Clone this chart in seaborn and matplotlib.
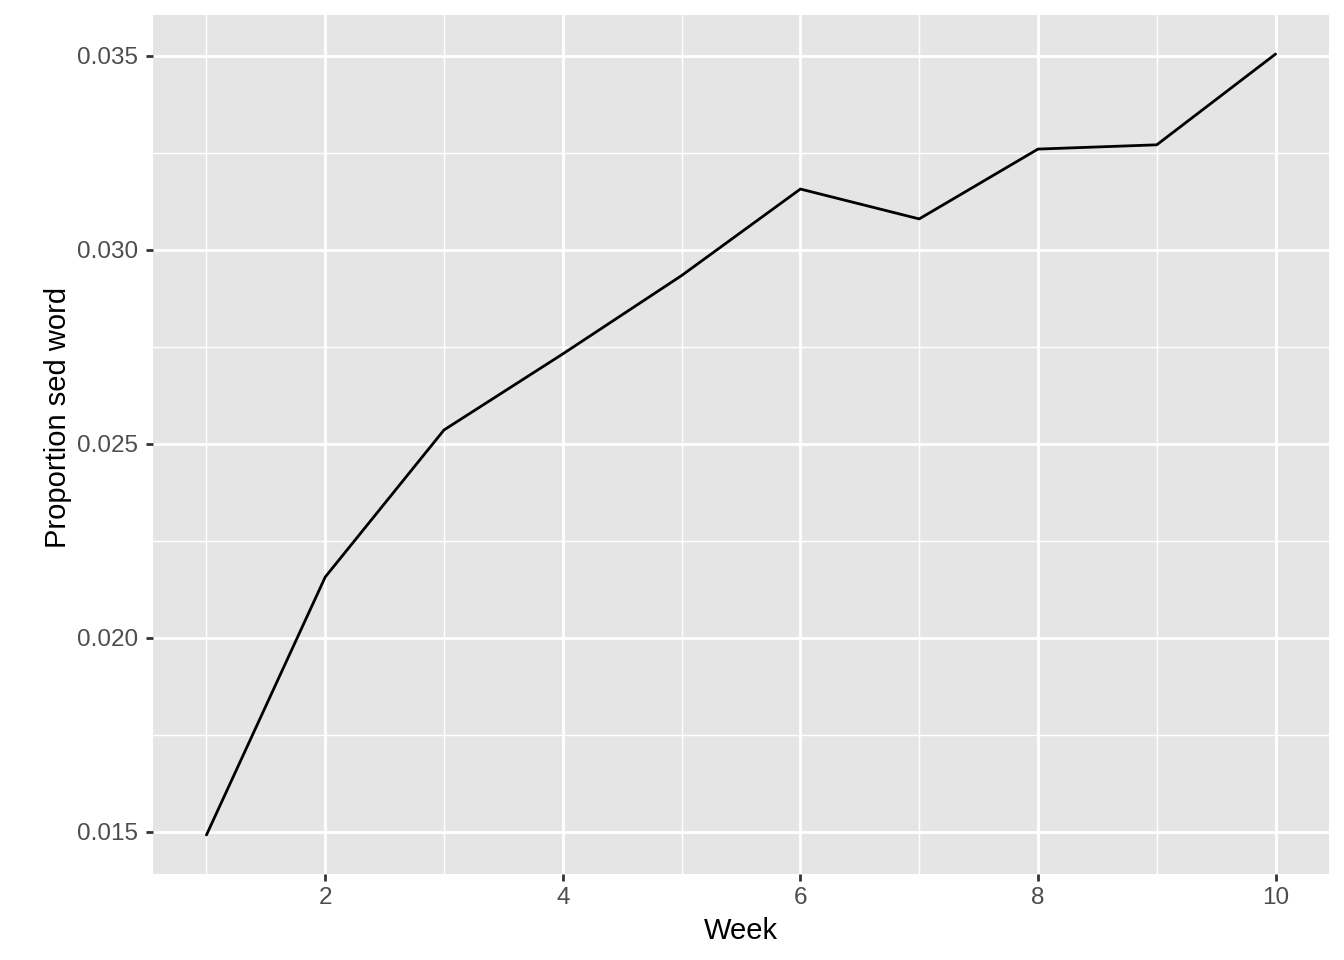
import numpy as np
import pandas as pd
import matplotlib
matplotlib.use("Agg")
import matplotlib.pyplot as plt
import seaborn as sns

# data
weeks = [1, 2, 3, 4, 5, 6, 7, 8, 9, 10]
prop_sed = [0.01492, 0.02157, 0.02536, 0.02732, 0.02934,
            0.03157, 0.03080, 0.03260, 0.03271, 0.03505]
x_ticks = [2, 4, 6, 8, 10]
y_ticks = [0.015, 0.020, 0.025, 0.030, 0.035]
x_minor = [1, 3, 5, 7, 9]
y_minor = [0.0175, 0.0225, 0.0275, 0.0325]

df = pd.DataFrame({"Week": weeks, "Proportion sed word": prop_sed})

sns.set_theme(style="darkgrid")
plt.rcParams["font.family"] = ["Liberation Sans", "DejaVu Sans"]

fig = plt.figure(figsize=(13.44, 9.6), dpi=100)
ax = fig.add_axes([153 / 1344, 1 - 874 / 960, (1329 - 153) / 1344, (874 - 15) / 960])
ax.set_facecolor("#E5E5E5")

sns.lineplot(data=df, x="Week", y="Proportion sed word", ax=ax,
             color="black", linewidth=2.0, zorder=3)

# ggplot-like expansion (5%)
xr = max(weeks) - min(weeks)
yr = max(prop_sed) - min(prop_sed)
ax.set_xlim(min(weeks) - 0.05 * xr, max(weeks) + 0.05 * xr)
ax.set_ylim(min(prop_sed) - 0.05 * yr, max(prop_sed) + 0.05 * yr)

ax.set_xticks(x_ticks)
ax.set_yticks(y_ticks)
ax.set_xticks(x_minor, minor=True)
ax.set_yticks(y_minor, minor=True)
ax.set_yticklabels([f"{v:.3f}" for v in y_ticks])
ax.grid(which="major", color="white", linewidth=2.0)
ax.grid(which="minor", color="white", linewidth=1.0)
ax.set_axisbelow(True)

ax.tick_params(axis="both", which="major", length=5, width=2.0, color="#333333",
               labelcolor="#4D4D4D", labelsize=17.5, left=True, bottom=True)
ax.tick_params(axis="x", which="major", pad=4)
ax.tick_params(axis="y", which="major", pad=5.5)
ax.tick_params(axis="both", which="minor", length=0)
for s in ax.spines.values():
    s.set_visible(False)

ax.set_xlabel("Week", fontsize=21, color="black", labelpad=6)
ax.set_ylabel("Proportion sed word", fontsize=21, color="black")
ax.yaxis.set_label_coords(-0.0687, 0.531)

fig.savefig("out.png", dpi=100, facecolor="white")
